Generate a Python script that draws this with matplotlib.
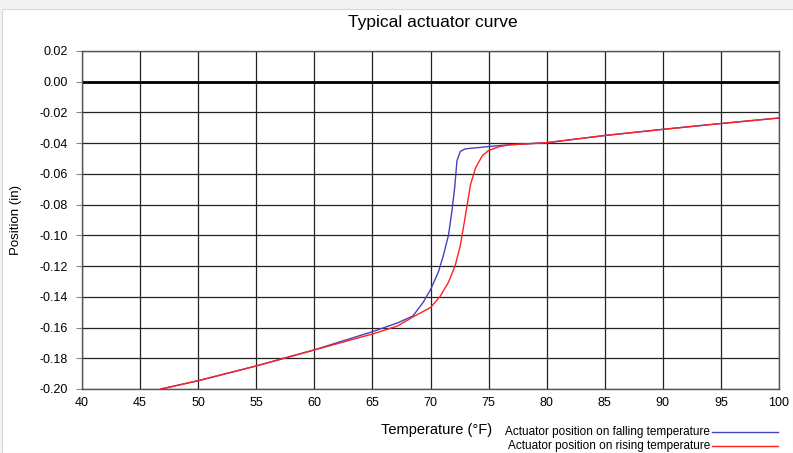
import numpy as np
import matplotlib
matplotlib.use("Agg")
import matplotlib.pyplot as plt
from matplotlib.lines import Line2D
from matplotlib.patches import Rectangle

plt.rcParams['font.family'] = ['Liberation Sans', 'DejaVu Sans']

# readings: temperature (F) vs position (in)
falling_temp = [46.8, 50.0, 55.0, 60.0, 65.0, 67.16, 68.48, 69.36, 70.0, 70.67, 71.11,
                71.55, 71.84, 72.08, 72.28, 72.57, 73.0, 75.0, 76.8, 80.0, 85.0, 90.0,
                95.0, 100.0]
falling_pos = [-0.200, -0.1946, -0.185, -0.1745, -0.1627, -0.1570, -0.1525, -0.1437,
               -0.1354, -0.1240, -0.1130, -0.0998, -0.0844, -0.0690, -0.0514, -0.0453,
               -0.0437, -0.0422, -0.0410, -0.0397, -0.0350, -0.0310, -0.0272, -0.0236]

rising_temp = [46.8, 50.0, 55.0, 60.0, 65.0, 67.16, 68.63, 70.0, 70.82, 71.55, 72.13,
               72.57, 72.87, 73.16, 73.45, 73.89, 74.47, 75.0, 75.94, 76.8, 80.0, 85.0,
               90.0, 95.0, 100.0]
rising_pos = [-0.200, -0.1946, -0.185, -0.1746, -0.1642, -0.1590, -0.1525, -0.1470,
              -0.1398, -0.1305, -0.1196, -0.1064, -0.0932, -0.0800, -0.0668, -0.0558,
              -0.0481, -0.0448, -0.0422, -0.0411, -0.0397, -0.0350, -0.0310, -0.0272,
              -0.0236]

x_ticks = list(range(40, 101, 5))
y_ticks = [0.02, 0.00, -0.02, -0.04, -0.06, -0.08, -0.10, -0.12, -0.14, -0.16, -0.18, -0.20]

fig = plt.figure(figsize=(7.93, 4.53), dpi=100)
fig.patch.set_facecolor('#f3f3f3')
fig.patches.append(Rectangle((0.003, 0), 0.997, 1 - 9 / 453, transform=fig.transFigure,
                             facecolor='white', edgecolor='#d8d8d8', linewidth=0.8, zorder=-1))

ax = fig.add_axes([82 / 793, 1 - 389 / 453, (779 - 82) / 793, (389 - 51) / 453])
ax.set_xlim(40, 100)
ax.set_ylim(-0.20, 0.02)
ax.set_xticks(x_ticks)
ax.set_yticks(y_ticks)
ax.set_yticklabels([f"{v:.2f}" for v in y_ticks])
ax.grid(True, color='#222222', linewidth=0.9)
ax.axhline(0, color='black', linewidth=2.0, zorder=2)
for s in ax.spines.values():
    s.set_color('#555555')
    s.set_linewidth(1.0)
ax.tick_params(axis='y', length=4, color='#888888', labelsize=9, pad=6)
ax.tick_params(axis='x', length=0, labelsize=9, pad=6)

ax.plot(falling_temp, falling_pos, color='#4444bb', linewidth=1.0, zorder=3)
ax.plot(rising_temp, rising_pos, color='#ff2020', linewidth=1.0, zorder=4)

fig.text(433 / 793, 1 - 23 / 453, 'Typical actuator curve', ha='center', va='center', fontsize=12.5)
fig.text(16 / 793, 1 - 220 / 453, 'Position (in)', ha='center', va='center',
         rotation=90, fontsize=9.5)
fig.text(437 / 793, 1 - 430 / 453, 'Temperature (°F)', ha='center', va='center', fontsize=10.5)

# legend drawn as text + line below the axes
for yy, label, col in [(432, 'Actuator position on falling temperature', '#4444bb'),
                       (446, 'Actuator position on rising temperature', '#ff2020')]:
    fig.text(710 / 793, 1 - yy / 453, label, ha='right', va='center', fontsize=8.5)
    fig.add_artist(Line2D([712 / 793, 778 / 793], [1 - yy / 453, 1 - yy / 453],
                          transform=fig.transFigure, color=col, linewidth=1.0))

fig.savefig('out.png', dpi=100, facecolor=fig.get_facecolor())
